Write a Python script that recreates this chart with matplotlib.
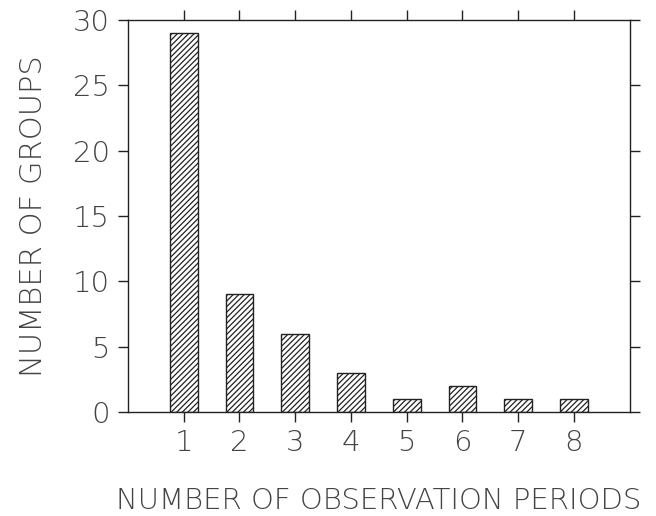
import matplotlib
matplotlib.use("Agg")
import matplotlib.pyplot as plt

# data
periods = [1, 2, 3, 4, 5, 6, 7, 8]
groups = [29, 9, 6, 3, 1, 2, 1, 1]
y_ticks = [0, 5, 10, 15, 20, 25, 30]

plt.rcParams["font.family"] = ["DejaVu Sans"]
plt.rcParams["hatch.linewidth"] = 0.9
plt.rcParams["hatch.color"] = "#2a2a2a"

fig = plt.figure(figsize=(6.56, 5.16), dpi=100)
ax = fig.add_axes([0.195, 0.2016, 0.765, 0.7594])

ax.bar(periods, groups, width=0.5, facecolor="white", edgecolor="#222222",
       hatch="//////", linewidth=1.0)

ax.set_xlim(0, 9)
ax.set_ylim(0, 30)
ax.set_xticks(periods)
ax.set_yticks(y_ticks)
ax.tick_params(axis="both", direction="out", length=7, width=1,
               color="#222222", labelsize=21, labelcolor="#444444")
ax.tick_params(axis="x", top=True, pad=5)
ax.tick_params(axis="y", right=True, pad=6)
for lab in ax.get_xticklabels() + ax.get_yticklabels():
    lab.set_fontweight("light")
for s in ax.spines.values():
    s.set_linewidth(1.0)
    s.set_color("#222222")

ax.set_xlabel("NUMBER OF OBSERVATION PERIODS", fontsize=21,
              fontweight="light", color="#444444", labelpad=22)
ax.set_ylabel("NUMBER OF GROUPS", fontsize=22, fontweight="light",
              color="#444444", labelpad=18)

fig.savefig("out.png", dpi=100)
